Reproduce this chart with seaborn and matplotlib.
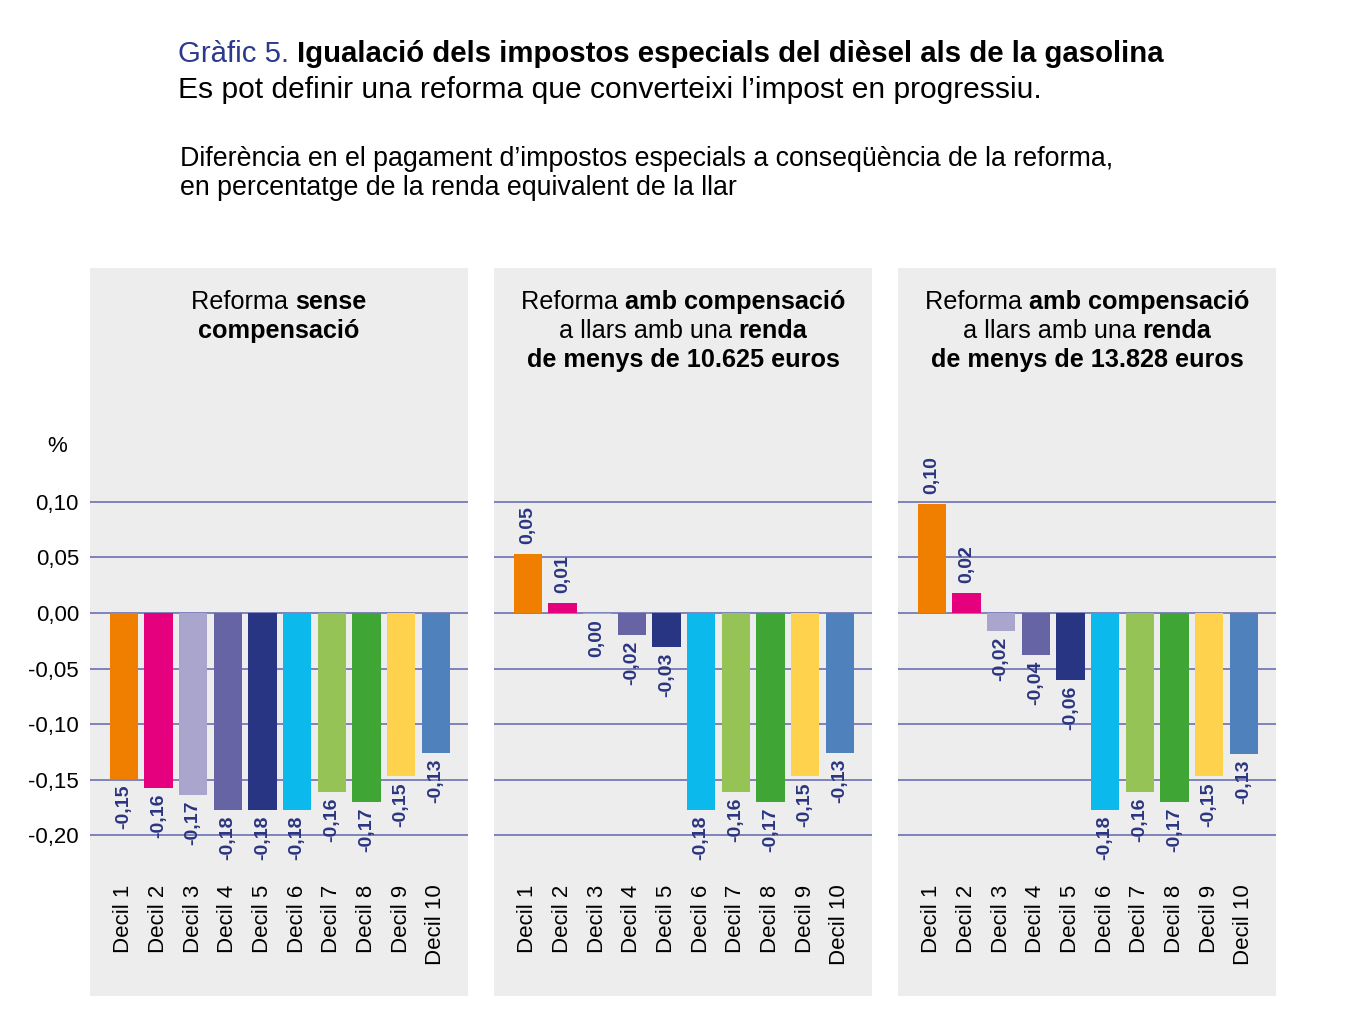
import matplotlib
matplotlib.use("Agg")
import matplotlib.pyplot as plt
import matplotlib.patches as mpatches
import seaborn as sns
import pandas as pd

# data
deciles = ["Decil 1", "Decil 2", "Decil 3", "Decil 4", "Decil 5",
           "Decil 6", "Decil 7", "Decil 8", "Decil 9", "Decil 10"]
sense_comp = [-0.149, -0.157, -0.164, -0.177, -0.177, -0.177, -0.161, -0.170, -0.147, -0.126]
comp_10625 = [0.053, 0.009, -0.001, -0.020, -0.031, -0.177, -0.161, -0.170, -0.147, -0.126]
comp_13828 = [0.098, 0.018, -0.016, -0.038, -0.060, -0.177, -0.161, -0.170, -0.147, -0.127]
value_labels = {
    "p1": ["-0,15", "-0,16", "-0,17", "-0,18", "-0,18", "-0,18", "-0,16", "-0,17", "-0,15", "-0,13"],
    "p2": ["0,05", "0,01", "0,00", "-0,02", "-0,03", "-0,18", "-0,16", "-0,17", "-0,15", "-0,13"],
    "p3": ["0,10", "0,02", "-0,02", "-0,04", "-0,06", "-0,18", "-0,16", "-0,17", "-0,15", "-0,13"],
}
y_ticks = [0.10, 0.05, 0.0, -0.05, -0.10, -0.15, -0.20]
y_tick_labels = ["0,10", "0,05", "0,00", "-0,05", "-0,10", "-0,15", "-0,20"]
colors = ["#f07f00", "#e5007e", "#a9a5cd", "#6764a6", "#283583",
          "#0cb9ec", "#95c355", "#3fa535", "#ffd24d", "#4f81bd"]

panel_titles = [
    [[("Reforma ", "normal"), ("sense", "bold")],
     [("compensació", "bold")]],
    [[("Reforma ", "normal"), ("amb compensació", "bold")],
     [("a llars amb una ", "normal"), ("renda", "bold")],
     [("de menys de 10.625 euros", "bold")]],
    [[("Reforma ", "normal"), ("amb compensació", "bold")],
     [("a llars amb una ", "normal"), ("renda", "bold")],
     [("de menys de 13.828 euros", "bold")]],
]

sns.set_style("white")
FONT = ["Liberation Sans", "DejaVu Sans"]
plt.rcParams["font.family"] = FONT
plt.rcParams["text.color"] = "black"
plt.rcParams["xtick.color"] = "black"
plt.rcParams["ytick.color"] = "black"

W, H = 1345, 1028
fig = plt.figure(figsize=(W / 100, H / 100), dpi=100)
renderer = fig.canvas.get_renderer()


def fx(px):
    return px / W


def fy(py):
    return 1 - py / H


def rich_line(xc, ybase, parts, size, align="center"):
    texts = []
    for s, w, *c in parts:
        col = c[0] if c else "black"
        t = fig.text(0, fy(ybase), s, fontsize=size, fontweight=w, color=col,
                     va="baseline", ha="left")
        texts.append(t)
    widths = [t.get_window_extent(renderer).width for t in texts]
    x = xc - sum(widths) / 2 if align == "center" else xc
    for t, w in zip(texts, widths):
        t.set_x(fx(x))
        x += w


# header
rich_line(178, 62, [("Gràfic 5. ", "normal", "#2b3a8c"),
                    ("Igualació dels impostos especials del dièsel als de la gasolina", "bold")],
          21.2, align="left")
rich_line(178, 98, [("Es pot definir una reforma que converteixi l’impost en progressiu.", "normal")],
          21.6, align="left")
fig.text(fx(180), fy(166), "Diferència en el pagament d’impostos especials a conseqüència de la reforma,",
         fontsize=19.3, va="baseline", color="black")
fig.text(fx(180), fy(195), "en percentatge de la renda equivalent de la llar",
         fontsize=19.3, va="baseline", color="black")

panel_left = [90, 494, 898]
panel_w = 378
series = [sense_comp, comp_10625, comp_13828]
keys = ["p1", "p2", "p3"]

ax_top, ax_bot = 420, 850
zero_px, scale = 613, 1112

for i, (left, vals, key) in enumerate(zip(panel_left, series, keys)):
    fig.patches.append(mpatches.Rectangle((fx(left), fy(996)), fx(panel_w), (996 - 268) / H,
                                          transform=fig.transFigure, facecolor="#ededed",
                                          edgecolor="none", zorder=-10))
    ax = fig.add_axes([fx(left), fy(ax_bot), fx(panel_w), (ax_bot - ax_top) / H])
    ax.set_facecolor("none")
    df = pd.DataFrame({"decil": deciles, "valor": vals})
    sns.barplot(data=df, x="decil", y="valor", hue="decil", palette=colors,
                legend=False, width=0.82, saturation=1, linewidth=0, ax=ax, zorder=3)
    ax.set_xlim(-0.98, 9.93)
    ax.set_ylim((zero_px - ax_bot) / scale, (zero_px - ax_top) / scale)
    ax.set_yticks(y_ticks)
    ax.set_axisbelow(True)
    ax.yaxis.grid(True, color="#5f67ad", linewidth=1.1)
    ax.xaxis.grid(False)
    for sp in ax.spines.values():
        sp.set_visible(False)
    ax.set_xlabel("")
    ax.set_ylabel("")
    ax.set_xticks(range(len(deciles)))
    ax.set_xticklabels(deciles, rotation=90, fontsize=16, color="black")
    ax.tick_params(axis="x", length=0, pad=25)
    if i == 0:
        ax.set_yticklabels(y_tick_labels, fontsize=16, color="black")
        ax.tick_params(axis="y", length=0, pad=8)
    else:
        ax.tick_params(axis="y", length=0, labelleft=False)

    for j, (v, lab) in enumerate(zip(vals, value_labels[key])):
        if v > 0:
            ax.annotate(lab, (j, v), xytext=(0, 7), textcoords="offset points",
                        rotation=90, ha="center", va="bottom", fontsize=14,
                        fontweight="bold", color="#2b3580")
        else:
            ax.annotate(lab, (j, v), xytext=(0, -4), textcoords="offset points",
                        rotation=90, ha="center", va="top", fontsize=14,
                        fontweight="bold", color="#2b3580")

    # panel title
    for k, parts in enumerate(panel_titles[i]):
        rich_line(left + panel_w / 2, 309 + 29 * k, parts, 18.2)

fig.text(fx(57), fy(447), "%", fontsize=16, ha="center", va="center")

fig.savefig("out.png", dpi=100)
